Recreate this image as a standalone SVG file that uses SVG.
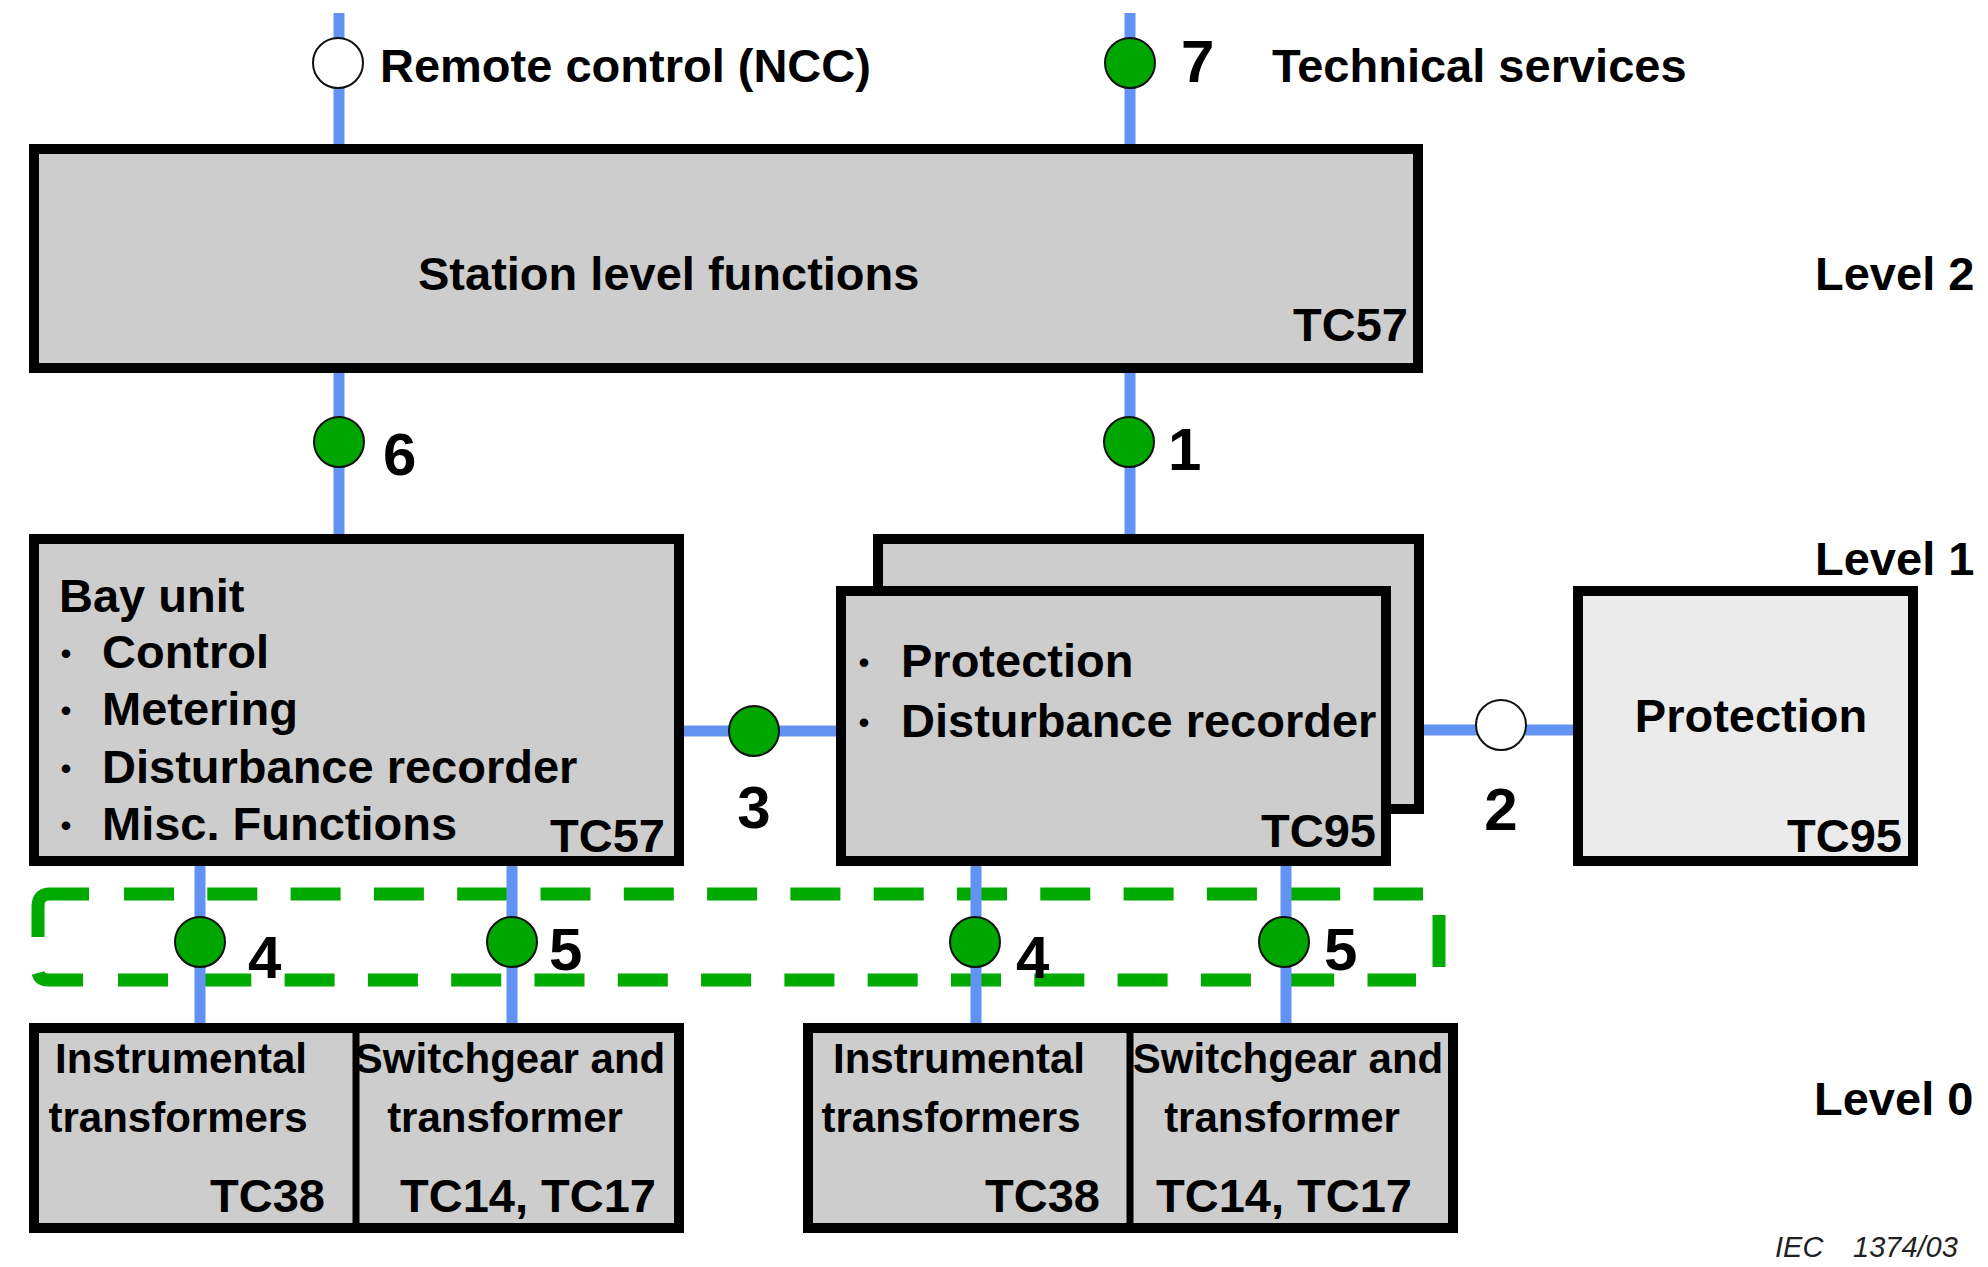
<svg xmlns="http://www.w3.org/2000/svg" width="1988" height="1267" viewBox="0 0 1988 1267">
<style>
.box{fill:#cdcdcd;stroke:#000;stroke-width:10}
.light{fill:#ebebeb}
.t{font-family:"Liberation Sans",Arial,sans-serif;font-weight:bold;font-size:47px;fill:#000}
.s{font-size:42px}
.n{font-size:60px}
.b{font-size:30px}
.m{text-anchor:middle}
.e{text-anchor:end}
.c{stroke:#6393f2;stroke-width:11;fill:none}
.g{fill:#00a600;stroke:#111;stroke-width:2}
.w{fill:#fff;stroke:#111;stroke-width:2}
.d{stroke:#00aa00;stroke-width:13;fill:none}
</style>
<rect width="1988" height="1267" fill="#fff"/>

<g id="bus-group">
<path class="d" d="M38 937 V906 Q38 894 50 894 H89"/>
<path class="d" d="M124 894 H1423" stroke-dasharray="50 33.3"/>
<path class="d" d="M1439 915 V967"/>
<path class="d" d="M118 980 H1416" stroke-dasharray="50 33.3"/>
<path class="d" d="M38 973 Q40 980 48 980 H83"/>
</g>

<g id="connectors">
<line class="c" x1="339" y1="13" x2="339" y2="144"/>
<line class="c" x1="1130" y1="13" x2="1130" y2="144"/>
<line class="c" x1="339" y1="373" x2="339" y2="534"/>
<line class="c" x1="1130" y1="373" x2="1130" y2="534"/>
<line class="c" x1="684" y1="731" x2="836" y2="731"/>
<line class="c" x1="1424" y1="730" x2="1573" y2="730"/>
<line class="c" x1="200" y1="866" x2="200" y2="1023"/>
<line class="c" x1="512" y1="866" x2="512" y2="1023"/>
<line class="c" x1="976" y1="866" x2="976" y2="1023"/>
<line class="c" x1="1286" y1="866" x2="1286" y2="1023"/>
<circle class="w" cx="338" cy="63" r="25"/>
<circle class="g" cx="1130" cy="63" r="25"/>
<circle class="g" cx="339" cy="442" r="25"/>
<circle class="g" cx="1129" cy="442" r="25"/>
<circle class="g" cx="754" cy="731" r="25"/>
<circle class="w" cx="1501" cy="725" r="25"/>
<circle class="g" cx="200" cy="942" r="25"/>
<circle class="g" cx="512" cy="942" r="25"/>
<circle class="g" cx="975" cy="942" r="25"/>
<circle class="g" cx="1284" cy="942" r="25"/>
<text class="t" x="380" y="82">Remote control (NCC)</text>
<text class="t n" x="1181" y="82">7</text>
<text class="t" x="1272" y="82">Technical services</text>
<text class="t n" x="383" y="475">6</text>
<text class="t n" x="1168" y="470">1</text>
<text class="t n m" x="754" y="828">3</text>
<text class="t n m" x="1501" y="830">2</text>
<text class="t n" x="248" y="978">4</text>
<text class="t n" x="549" y="970">5</text>
<text class="t n" x="1016" y="978">4</text>
<text class="t n" x="1324" y="970">5</text>
</g>

<g id="station">
<rect class="box" x="34" y="149" width="1384" height="219"/>
<text class="t" x="418" y="290">Station level functions</text>
<text class="t e" x="1408" y="341">TC57</text>
</g>

<g id="bay-unit">
<rect class="box" x="34" y="539" width="645" height="322"/>
<text class="t" x="59" y="612">Bay unit</text>
<text class="t b m" x="66" y="664">•</text>
<text class="t" x="102" y="668">Control</text>
<text class="t b m" x="66" y="721">•</text>
<text class="t" x="102" y="725">Metering</text>
<text class="t b m" x="66" y="779">•</text>
<text class="t" x="102" y="783">Disturbance recorder</text>
<text class="t b m" x="66" y="836">•</text>
<text class="t" x="102" y="840">Misc. Functions</text>
<text class="t e" x="665" y="852">TC57</text>
</g>

<g id="protection-bay">
<rect class="box" x="878" y="539" width="541" height="270"/>
<rect class="box" x="841" y="591" width="545" height="270"/>
<text class="t b m" x="864" y="673">•</text>
<text class="t" x="901" y="677">Protection</text>
<text class="t b m" x="864" y="733">•</text>
<text class="t" x="901" y="737">Disturbance recorder</text>
<text class="t e" x="1376" y="847">TC95</text>
</g>

<g id="protection">
<rect class="box light" x="1578" y="591" width="335" height="270"/>
<text class="t m" x="1751" y="732">Protection</text>
<text class="t e" x="1902" y="852">TC95</text>
</g>

<g id="process-left">
<rect class="box" x="34" y="1028" width="645" height="200"/>
<line x1="356" y1="1028" x2="356" y2="1228" stroke="#000" stroke-width="7"/>
<text class="t s m" x="181" y="1073">Instrumental</text>
<text class="t s m" x="178" y="1132">transformers</text>
<text class="t e" x="325" y="1212">TC38</text>
<text class="t s m" x="510" y="1073">Switchgear and</text>
<text class="t s m" x="505" y="1132">transformer</text>
<text class="t e" x="656" y="1212">TC14, TC17</text>
</g>

<g id="process-right">
<rect class="box" x="808" y="1028" width="645" height="200"/>
<line x1="1130" y1="1028" x2="1130" y2="1228" stroke="#000" stroke-width="7"/>
<text class="t s m" x="959" y="1073">Instrumental</text>
<text class="t s m" x="951" y="1132">transformers</text>
<text class="t e" x="1100" y="1212">TC38</text>
<text class="t s m" x="1288" y="1073">Switchgear and</text>
<text class="t s m" x="1282" y="1132">transformer</text>
<text class="t e" x="1412" y="1212">TC14, TC17</text>
</g>

<g id="levels">
<text class="t" x="1815" y="290">Level 2</text>
<text class="t" x="1815" y="575">Level 1</text>
<text class="t" x="1814" y="1115">Level 0</text>
</g>

<text font-family="'Liberation Sans',Arial,sans-serif" font-style="italic" font-size="29" fill="#222" y="1257"><tspan x="1775">IEC</tspan><tspan x="1853">1374/03</tspan></text>
</svg>
